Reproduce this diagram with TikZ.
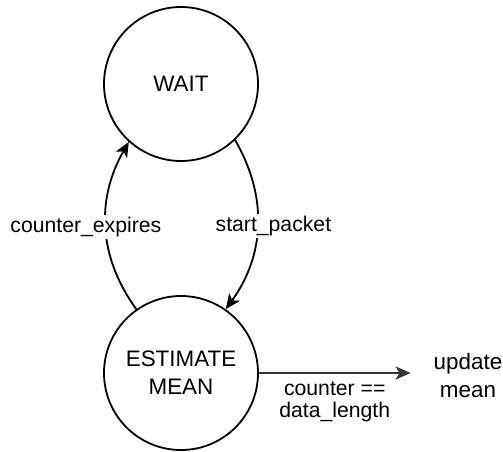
\documentclass[tikz,border=0pt]{standalone}
\usepackage{fontspec}
\setmainfont{Liberation Sans}
\usetikzlibrary{arrows.meta,positioning}

\begin{document}
\begin{tikzpicture}[x=0.5pt,y=0.5pt,
  state/.style={circle,draw,line width=0.9pt,minimum size=77pt,inner sep=0pt,align=center,font=\fontsize{11.2}{14}\selectfont},
  trans/.style={line width=0.9pt,-{Stealth[length=7.5pt,width=6.5pt,inset=2pt]}},
  lbl/.style={font=\fontsize{10.6}{11}\selectfont,fill=white,inner sep=1pt}]
  \useasboundingbox (0,0) rectangle (503,451);
  \node[state] (wait) at (181,367) {WAIT};
  \node[state] (est) at (181,78) {ESTIMATE\\MEAN};
  \node[align=center,minimum width=57pt,inner sep=0pt,font=\fontsize{11.2}{14}\selectfont] (upd) at (468,76) {update\\mean};
  % transitions
  \draw[trans] (wait.-46) to[out=-60,in=54] node[lbl,xshift=8pt] {start\_packet} (est.55);
  \draw[trans] (est.125) to[out=126,in=-120] node[lbl,xshift=-10pt] {counter\_expires} (wait.-132);
  \draw[trans,draw=black!80,line width=1pt] (est.east) -- node[lbl,below=3pt,align=center] {counter ==\\data\_length} (upd.west |- est.east);
\end{tikzpicture}
\end{document}
